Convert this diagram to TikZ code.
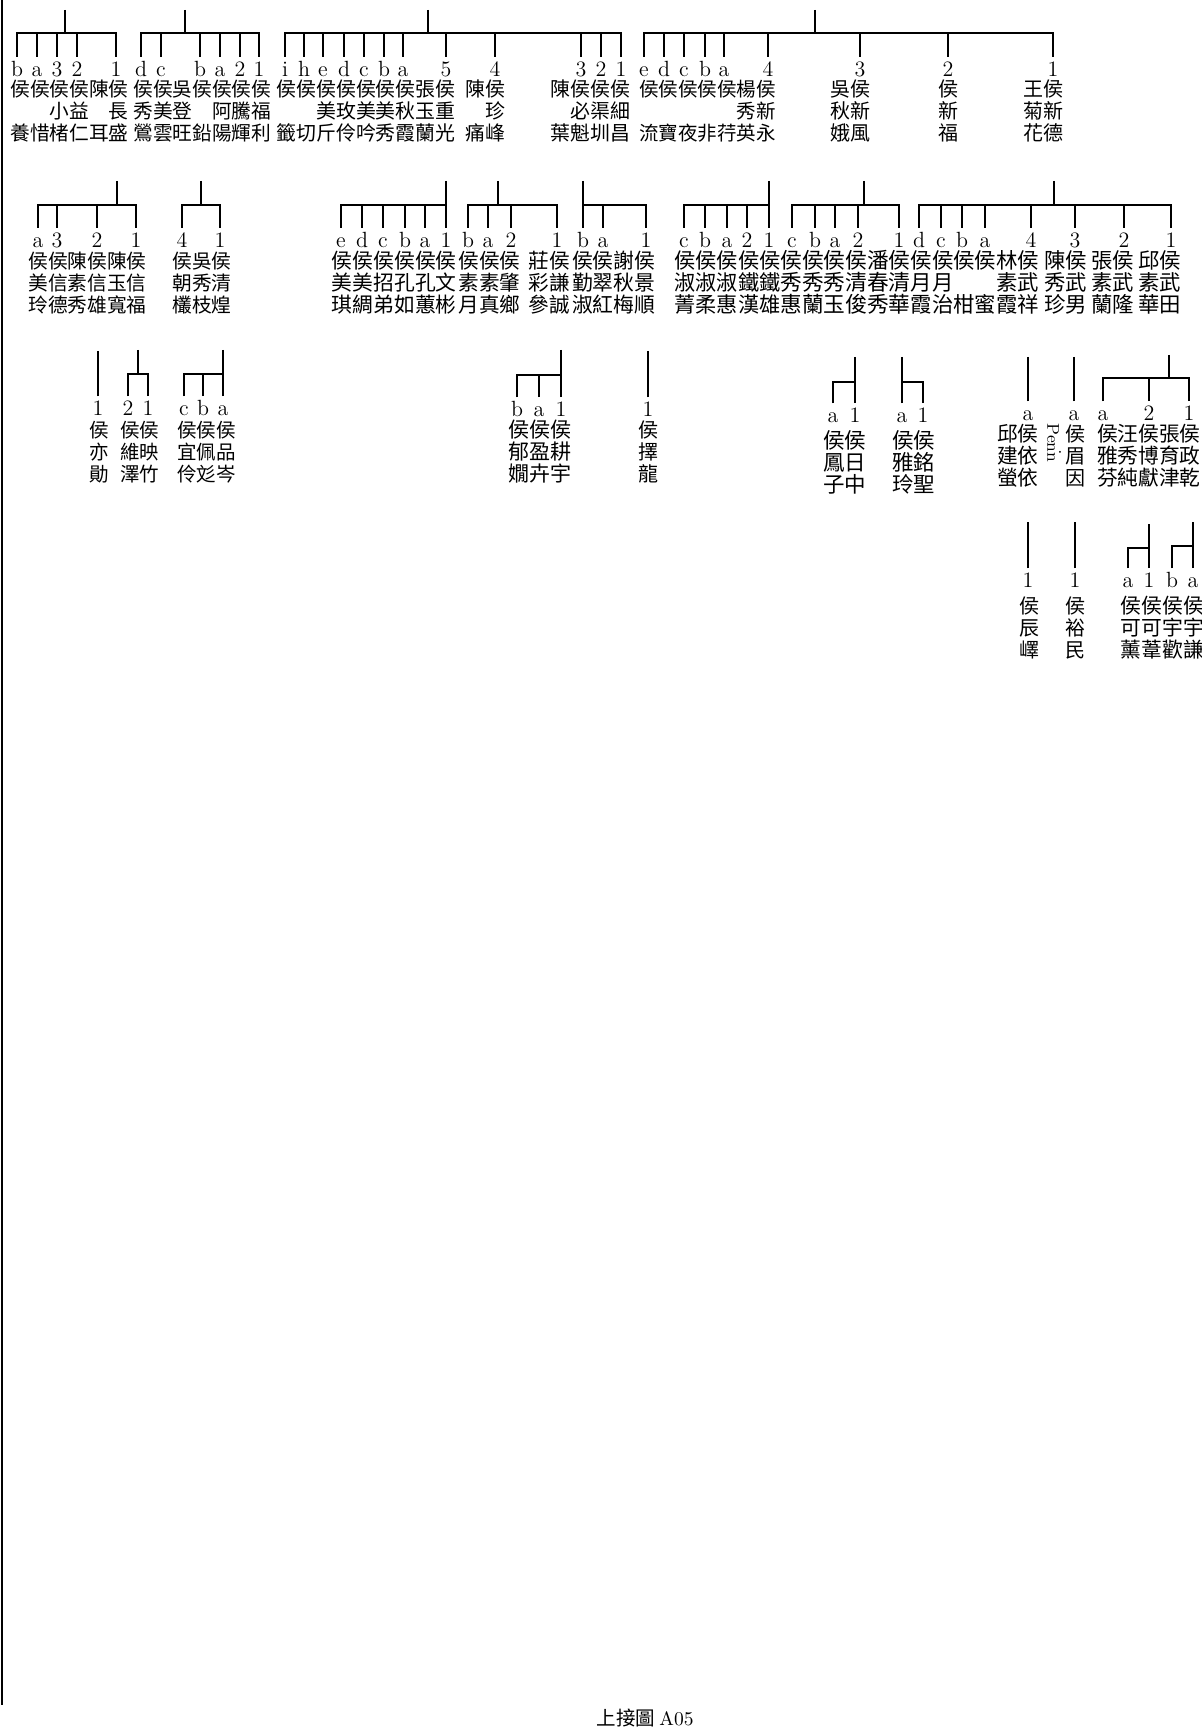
\documentclass[tikz,border=0pt]{standalone}
\usepackage{fontspec}
\newfontfamily\cjk{Noto Sans CJK TC}
\tikzset{
  kin/.style={line width=1.2pt},
  lab/.style={anchor=north, inner sep=0pt, outer ysep=2.2pt, text height=7.6pt, text depth=0pt, font=\fontsize{11}{12}\selectfont},
  nm/.style={anchor=base west, inner sep=0pt, font=\cjk\fontsize{#1}{#1}\selectfont},
}
% three rows of names, one node per row
\newcommand\namerows[7]{%
  \node[nm=#4] (#1-r1) at (#2,#3) {#5};
  \node[nm=#4] (#1-r2) at (#2,#3+22) {#6};
  \node[nm=#4] (#1-r3) at (#2,#3+44) {#7};}
% labels under a family bar
\newcommand\kinlabels[3]{%
  \foreach \x/\lbl [count=\i] in {#2} \node[lab] (#1-\i) at (\x,#3) {\lbl};}
% stub, bar and drops of one family
\newcommand\kinbar[5]{%
  \coordinate (#1-top) at (#3,#4);
  \coordinate (#1-bar) at (#3,#5);
  \draw[kin] (#1-top) -- (#1-bar);
  \draw[kin] (#1-1.north) |- (#1-bar) -| (#1-#2.north);
  \foreach \i in {1,...,#2} \draw[kin] (#1-\i.north) -- (#1-\i.north |- #1-bar);}

\begin{document}
\begin{tikzpicture}[x=0.5pt, y=-0.5pt]
    \useasboundingbox (0,0) rectangle (1201,1733);
    \fill[white] (0,0) rectangle (1201,1733);
    \draw[line width=0.8pt] (2,0) -- (2,1705);

    % first row
    \namerows{r1a}{10}{96.5}{9.85}{侯侯侯侯陳侯}{　　小益　長}{養惜楮仁耳盛}
    \kinlabels{r1a}{17/b,37/a,57/3,77/2,116/1}{57}
    \kinbar{r1a}{5}{65}{10}{33}

    \namerows{r1b}{133}{96.5}{9.85}{侯侯吳侯侯侯侯}{秀美登　阿騰福}{鶯雲旺鉛陽輝利}
    \kinlabels{r1b}{141/d,161/c,200/b,220/a,240/2,259/1}{57}
    \kinbar{r1b}{6}{185}{10}{33}

    \namerows{r1c}{276}{96.5}{9.95}{侯侯侯侯侯侯侯張侯}{　　美玫美美秋玉重}{籤切斤伶吟秀霞蘭光}
    \namerows{r1cc}{465}{96.5}{9.95}{陳侯}{　珍}{痛峰}
    \namerows{r1cd}{550}{96.5}{9.95}{陳侯侯侯}{　必渠細}{葉魁圳昌}
    \kinlabels{r1c}{285/i,304/h,323/e,344/d,364/c,384/b,403/a,446/5,495/4,581/3,601/2,621/1}{57}
    \kinbar{r1c}{12}{428}{10}{33}

    \namerows{r1d}{639}{96.5}{9.75}{侯侯侯侯侯楊侯}{　　　　　秀新}{流寶夜非荇英永}
    \namerows{r1dc}{830}{96.5}{10}{吳侯}{秋新}{娥風}
    \namerows{r1dd}{938}{96.5}{10}{侯}{新}{福}
    \namerows{r1de}{1023}{96.5}{10}{王侯}{菊新}{花德}
    \kinlabels{r1d}{644/e,664/d,684/c,705/b,724/a,768/4,860/3,948/2,1053/1}{57}
    \kinbar{r1d}{9}{815}{10}{33}

    % second row
    \namerows{r2a}{28}{269}{9.85}{侯侯陳侯陳侯}{美信素信玉信}{玲德秀雄寬福}
    \kinlabels{r2a}{38/a,57/3,97/2,136/1}{228}
    \kinbar{r2a}{4}{117}{181}{205}

    \namerows{r2b}{172}{269}{9.85}{侯吳侯}{朝秀清}{欉枝煌}
    \kinlabels{r2b}{182/4,220/1}{228}
    \kinbar{r2b}{2}{201}{181}{205}

    \namerows{r2c}{331.5}{269}{10.4}{侯侯侯侯侯侯}{美美招孔孔文}{琪綢弟如蕙彬}
    \kinlabels{r2c}{341/e,362/d,383/c,405/b,425/a,446/1}{228}
    \kinbar{r2c}{6}{446}{181}{205}

    \namerows{r2d}{458.3}{269}{10.3}{侯侯侯\kern4pt莊侯}{素素肇\kern4pt彩謙}{月真鄉\kern4pt參誠}
    \kinlabels{r2d}{468/b,488/a,511/2,557/1}{228}
    \kinbar{r2d}{4}{498}{181}{205}

    \namerows{r2e}{571.7}{269}{10.4}{侯侯謝侯}{勤翠秋景}{淑紅梅順}
    \kinlabels{r2e}{583/b,603/a,646/1}{228}
    \kinbar{r2e}{3}{583}{181}{205}

    \namerows{r2f}{674}{269}{10.6}{侯侯侯侯侯}{淑淑淑鐵鐵}{菁柔惠漢雄}
    \kinlabels{r2f}{684/c,705/b,727/a,747/2,769/1}{228}
    \kinbar{r2f}{5}{769}{181}{205}

    \namerows{r2g}{780}{269}{10.85}{侯侯侯侯潘侯}{秀秀秀清春清}{惠蘭玉俊秀華}
    \kinlabels{r2g}{792/c,815/b,835/a,858/2,899/1}{228}
    \kinbar{r2g}{5}{864}{181}{205}

    \namerows{r2h}{910.3}{269}{10.7}{侯侯侯侯林侯}{月月　　素武}{霞治柑蜜霞祥}
    \namerows{r2hc}{1044}{269}{10.7}{陳侯}{秀武}{珍男}
    \namerows{r2hd}{1091}{269}{10.7}{張侯}{素武}{蘭隆}
    \namerows{r2he}{1138}{269}{10.7}{邱侯}{素武}{華田}
    \kinlabels{r2h}{919/d,941/c,962/b,985/a,1031/4,1075/3,1124/2,1171/1}{228}
    \kinbar{r2h}{8}{1054}{181}{205}

    % third row
    \namerows{r3a}{89}{437.5}{9.75}{侯}{亦}{勛}
    \kinlabels{r3a}{98/1}{396}
    \kinbar{r3a}{1}{98}{351}{374}

    \namerows{r3b}{120}{437.5}{9.75}{侯侯}{維映}{澤竹}
    \kinlabels{r3b}{128/2,148/1}{396}
    \kinbar{r3b}{2}{138}{350}{374}

    \namerows{r3c}{176.7}{437.5}{9.75}{侯侯侯}{宜佩品}{伶彣岑}
    \kinlabels{r3c}{184/c,203/b,223/a}{396}
    \kinbar{r3c}{3}{223}{350}{374}

    \namerows{r3d}{508}{437.5}{10.5}{侯侯侯}{郁盈耕}{嫺卉宇}
    \kinlabels{r3d}{517/b,539/a,561/1}{397}
    \kinbar{r3d}{3}{561}{350}{375}

    \namerows{r3e}{638}{437.5}{10}{侯}{擇}{龍}
    \kinlabels{r3e}{648/1}{397}
    \kinbar{r3e}{1}{648}{351}{375}

    \namerows{r3f}{823}{448}{10.75}{侯侯}{鳳日}{子中}
    \kinlabels{r3f}{833/a,855/1}{403}
    \kinbar{r3f}{2}{855}{357}{382}

    \namerows{r3g}{891.7}{448}{10.75}{侯侯}{雅銘}{玲聖}
    \kinlabels{r3g}{902/a,923/1}{403}
    \kinbar{r3g}{2}{902}{357}{382}

    \namerows{r3h}{996.7}{441}{10.35}{邱侯}{建依}{螢依}
    \kinlabels{r3h}{1028/a}{401}
    \kinbar{r3h}{1}{1028}{357}{378}

    \node[rotate=-90, inner sep=0pt, font=\fontsize{8.5}{9}\selectfont] (penn) at (1053,443) {Penn};
    \node[inner sep=0pt, font=\fontsize{9}{9}\selectfont] (penndot) at (1060,455) {·};

    \namerows{r3i}{1065}{441}{10}{侯}{眉}{因}
    \kinlabels{r3i}{1074/a}{401}
    \kinbar{r3i}{1}{1074}{357}{378}

    \namerows{r3j}{1096.7}{441}{10.35}{侯汪侯張侯}{雅秀博育政}{芬純獻津乾}
    \kinlabels{r3j}{1103/a,1149/2,1189/1}{401}
    \kinbar{r3j}{3}{1169}{355}{378}

    % fourth row
    \namerows{r4a}{1019}{613}{10}{侯}{辰}{嶧}
    \kinlabels{r4a}{1028/1}{568}
    \kinbar{r4a}{1}{1028}{522}{547}

    \namerows{r4b}{1065.5}{613}{10}{侯}{裕}{民}
    \kinlabels{r4b}{1075/1}{568}
    \kinbar{r4b}{1}{1075}{522}{547}

    \namerows{r4c}{1120}{613}{10.4}{侯侯}{可可}{薰葦}
    \kinlabels{r4c}{1128/a,1149/1}{568}
    \kinbar{r4c}{2}{1149}{524}{548}

    \namerows{r4d}{1162}{613}{10.4}{侯侯}{宇宇}{歡謙}
    \kinlabels{r4d}{1172/b,1193/a}{568}
    \kinbar{r4d}{2}{1193}{522}{546}

    \node[inner sep=0pt, font=\cjk\fontsize{9.75}{10}\selectfont] (caption) at (645,1718) {上接圖 {\rmfamily A05}};
\end{tikzpicture}
\end{document}
